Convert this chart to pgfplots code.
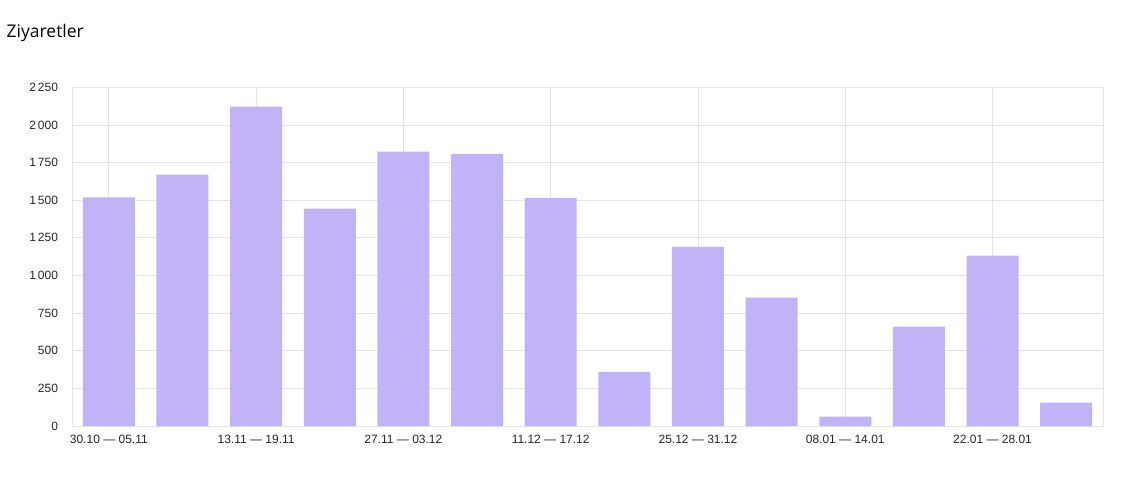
\documentclass[border=0pt]{standalone}
\usepackage{fontspec}
\setmainfont{Liberation Sans}
\newfontfamily\titlefont{Open Sans}
\usepackage{pgfplots}
\pgfplotsset{compat=1.18}
\definecolor{barc}{HTML}{C2B2F8}
\definecolor{gridc}{HTML}{E4E4E4}
\begin{document}
\begin{tikzpicture}
\path[use as bounding box] (0,0) rectangle (1121pt,501pt);
\node[anchor=west,font=\titlefont\fontsize{17.5}{20}\selectfont,inner sep=0pt] at (6.5pt,468pt) {Ziyaretler};
\begin{axis}[
  at={(72pt,75pt)}, anchor=south west,
  scale only axis, width=1031pt, height=338.7pt,
  xmin=-0.5, xmax=13.5, ymin=0, ymax=2250,
  ytick={0,250,...,2250},
  xtick={0,2,4,6,8,10,12},
  xticklabels={30.10 — 05.11,13.11 — 19.11,27.11 — 03.12,11.12 — 17.12,25.12 — 31.12,08.01 — 14.01,22.01 — 28.01},
  major tick length=0pt,
  axis line style={draw=gridc},
  grid=major, grid style={draw=gridc,line width=0.8pt},
  tick label style={font=\fontsize{12}{14}\selectfont, text=black!85},
  yticklabel style={xshift=-10.5pt},
  xticklabel style={yshift=-6pt},
  /pgf/number format/.cd, 1000 sep={\,}, assume math mode=true,
  /pgfplots/.cd,
]
\addplot[ybar, bar width=52pt, fill=barc, draw=none] coordinates {
 (0,1518) (1,1670) (2,2122) (3,1444) (4,1822) (5,1808) (6,1516)
 (7,359) (8,1190) (9,852) (10,62) (11,660) (12,1132) (13,155)
};
\end{axis}
\end{tikzpicture}
\end{document}
